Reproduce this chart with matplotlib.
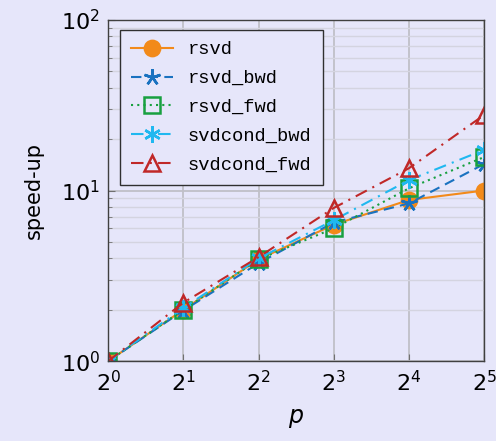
import matplotlib
matplotlib.use("Agg")
import matplotlib.pyplot as plt
from matplotlib.ticker import LogLocator, FixedLocator, NullFormatter

p = [1, 2, 4, 8, 16, 32]
x_ticklabels = [r"$2^{%d}$" % i for i in range(6)]
rsvd = [1.0, 2.0, 3.95, 6.3, 8.8, 10.0]
rsvd_bwd = [1.0, 1.98, 3.75, 6.5, 8.4, 14.3]
rsvd_fwd = [1.0, 2.0, 3.95, 6.0, 10.3, 15.7]
svdcond_bwd = [1.0, 2.05, 4.0, 6.7, 11.5, 17.3]
svdcond_fwd = [1.0, 2.2, 4.07, 7.9, 13.5, 27.7]

bg = "#e6e6fa"
plt.rcParams["font.family"] = "DejaVu Sans"
plt.rcParams["mathtext.fontset"] = "dejavusans"

fig = plt.figure(figsize=(4.96, 4.41), dpi=100, facecolor=bg)
ax = fig.add_axes([0.218, 0.181, 0.758, 0.774])
ax.set_facecolor(bg)
ax.set_xscale("log", base=2)
ax.set_yscale("log")
ax.set_xlim(1, 32)
ax.set_ylim(1, 100)

series = [
    ("rsvd", rsvd, "#f28a1a", "-", "o", True, 11),
    ("rsvd_bwd", rsvd_bwd, "#1a72c0", (0, (5, 3)), (5, 2, 0), True, 12),
    ("rsvd_fwd", rsvd_fwd, "#18a040", (0, (1, 2)), "s", False, 11),
    ("svdcond_bwd", svdcond_bwd, "#20b8f0", (0, (6, 3, 1, 3)), (6, 2, 0), True, 12),
    ("svdcond_fwd", svdcond_fwd, "#c02828", (0, (6, 3, 1, 3)), "^", False, 11),
]
for name, vals, col, ls, mk, filled, ms in series:
    ax.plot(p, vals, color=col, linestyle=ls, linewidth=1.5, marker=mk,
            markersize=ms, markerfacecolor=(col if filled else "none"),
            markeredgecolor=col, markeredgewidth=1.8, label=name)

ax.xaxis.set_major_locator(FixedLocator(p))
ax.set_xticklabels(x_ticklabels)
ax.xaxis.set_minor_locator(FixedLocator([]))
ax.yaxis.set_major_locator(FixedLocator([1, 10, 100]))
ax.set_yticklabels([r"$10^{0}$", r"$10^{1}$", r"$10^{2}$"])
ax.yaxis.set_minor_locator(LogLocator(base=10, subs=range(2, 10)))
ax.yaxis.set_minor_formatter(NullFormatter())

ax.grid(True, which="major", axis="x", color="#c0c0c8", linewidth=1.3)
ax.grid(True, which="major", axis="y", color="#c0c0c8", linewidth=1.3)
ax.grid(True, which="minor", axis="y", color="#d4d4e0", linewidth=1.0)
ax.set_axisbelow(True)

ax.tick_params(axis="both", which="major", direction="in", length=5,
               color="#707070", labelsize=16, pad=6)
ax.tick_params(axis="y", which="minor", direction="in", length=3, color="#707070")
for s in ax.spines.values():
    s.set_color("#404040")
    s.set_linewidth(1.0)

ax.set_xlabel(r"$p$", fontsize=17, labelpad=8)
ax.set_ylabel("speed-up", fontsize=15, labelpad=12)

leg = ax.legend(loc="upper left", bbox_to_anchor=(0.032, 0.97), borderaxespad=0,
                prop={"family": "Liberation Mono", "size": 13.5},
                frameon=True, fancybox=False, framealpha=1.0,
                edgecolor="#303030", facecolor=bg, handlelength=2.2,
                labelspacing=0.62, borderpad=0.6)
leg.get_frame().set_linewidth(1.0)

fig.savefig("out.png", dpi=100, facecolor=bg)
